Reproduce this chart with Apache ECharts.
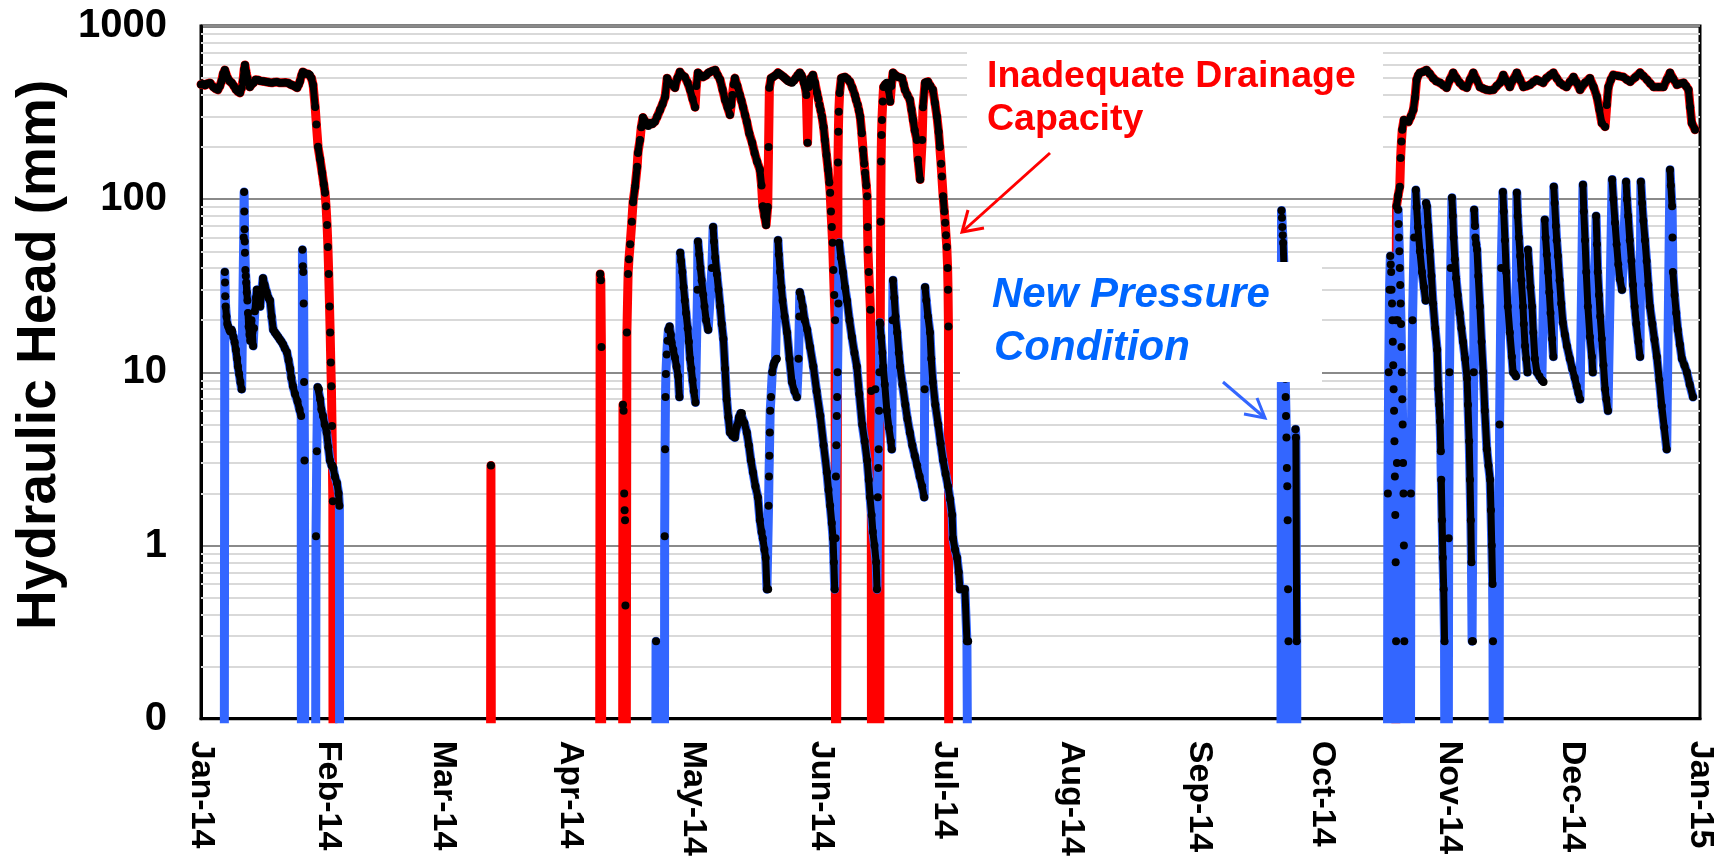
<!DOCTYPE html>
<html>
<head>
<meta charset="utf-8">
<title>Hydraulic Head</title>
<script src="https://cdn.jsdelivr.net/npm/echarts@6/dist/echarts.min.js"></script>
<style>
html, body { margin: 0; padding: 0; background: #fff; }
#chart { width: 1723px; height: 859px; }
</style>
</head>
<body>
<div id="chart"></div>
<script>
// x = days since 1 Jan 2014, y = hydraulic head (mm); 0 = no head
var monthDays = [0, 31, 59, 90, 120, 151, 181, 212, 243, 273, 304, 334, 365];
var monthLabels = ['Jan-14', 'Feb-14', 'Mar-14', 'Apr-14', 'May-14', 'Jun-14', 'Jul-14',
	'Aug-14', 'Sep-14', 'Oct-14', 'Nov-14', 'Dec-14', 'Jan-15'];
var minorGrid = [0.2, 0.3, 0.4, 0.5, 0.6, 0.7, 0.8, 0.9, 2, 3, 4, 5, 6, 7, 8, 9,
	20, 30, 40, 50, 60, 70, 80, 90, 200, 300, 400, 500, 600, 700, 800, 900];

// Inadequate Drainage Capacity
var drainJan = [[0,460],[0.5,462],[1,455],[1.6,465],[2.2,469],[3,445],[3.5,435],[4.1,428],[4.6,450],[5,480],[5.4,530],
	[5.8,557],[6.1,530],[6.5,500],[7,480],[7.5,469],[8,450],[8.5,430],[9,418],[9.5,411],[9.9,440],[10.2,480],[10.5,560],
	[10.7,596],[11,540],[11.3,500],[11.6,465],[11.9,445],[12.3,460],[12.8,470],[13.3,490],[13.9,488],[14.4,482],[15,480],
	[15.5,478],[16.1,475],[16.7,472],[17.3,470],[17.9,474],[18.5,475],[19.1,470],[19.8,470],[20.5,472],[21.2,469],
	[21.8,460],[22.3,455],[22.9,448],[23.4,440],[23.8,460],[24.1,480],[24.5,520],[24.8,543],[25.2,535],[25.6,530],
	[26.1,528],[26.5,522],[26.9,500],[27.3,457],[27.8,341],[28.1,270],[28.5,201],[29,170],[29.5,142],[29.9,122],
	[30.2,109],[30.45,91],[30.7,71],[30.9,53],[31.1,37],[31.3,24],[31.45,17],[31.6,11.4],[31.75,8.3],[31.9,4.9],
	[32.0,2.9],[32.1,1.8],[32.2,0]];
var drainMar = [[70.4,0],[70.6,2.9],[70.8,0]];
var drainApr = [[97.0,0],[97.2,37],[97.35,34],[97.5,14],[97.6,0]];
var drainAprJul = [[102.6,0],[102.75,6.5],[102.9,6.0],[103.05,2.0],[103.15,1.6],[103.25,1.4],[103.35,0.45],[103.45,0],
	[103.6,0],[103.7,17],[104.0,37],[104.2,45],[104.5,55],[104.9,74],[105.2,96],[105.7,118],[106.2,154],[106.4,185],
	[106.9,220],[107.2,260],[107.6,296],[108.0,285],[108.5,270],[108.9,265],[109.3,275],[109.9,272],[110.5,280],
	[111.1,300],[111.8,328],[112.4,355],[113,390],[113.5,500],[114.1,470],[114.7,458],[115.4,440],[116.0,500],
	[116.6,543],[117.2,520],[117.8,508],[118.5,470],[119.1,428],[119.7,380],[120.3,340],[120.6,450],[121,537],
	[121.6,520],[122.2,508],[122.6,515],[123.0,520],[123.5,535],[123.9,543],[124.5,550],[125.2,557],[125.8,520],
	[126.4,490],[127.0,430],[127.6,375],[128.2,340],[128.8,307],[129.1,350],[129.4,400],[129.7,460],[130,500],
	[130.6,450],[131.2,400],[131.6,370],[132.0,340],[132.5,305],[132.9,280],[133.5,240],[134.2,212],[134.8,185],
	[135.4,165],[136.1,148],[136.5,120],[136.8,91],[137.2,80],[137.6,71],[138.0,90],[138.2,200],[138.4,440],
	[138.8,500],[139.3,508],[139.9,520],[140.5,537],[140.9,528],[141.3,520],[141.8,510],[142.2,500],[142.6,490],
	[143.0,480],[143.5,475],[143.9,470],[144.4,485],[144.8,500],[145.3,520],[145.8,537],[146.2,520],[146.5,500],
	[146.8,470],[147.1,445],[147.4,400],[147.7,212],[148.0,445],[148.3,480],[148.5,500],[149.0,522],[149.5,470],
	[150,410],[150.3,380],[150.6,350],[150.9,325],[151.2,300],[151.6,260],[151.9,220],[152.3,180],[152.7,148],
	[153.0,125],[153.2,109],[153.4,85],[153.6,69],[153.8,56],[154.0,39],[154.2,28],[154.4,20],[154.6,0],[155.0,0],
	[155.1,163],[155.2,245],[155.3,320],[155.5,410],[155.9,500],[156.3,505],[156.8,508],[157.4,495],[158,477],
	[158.6,440],[159.2,400],[159.5,375],[159.9,350],[160.2,325],[160.5,300],[160.9,240],[161.2,193],[161.5,160],
	[161.7,142],[162.0,120],[162.2,104],[162.3,69],[162.4,51],[162.6,38],[162.8,30],[163.0,23],[163.2,7.8],
	[163.3,0],[164.0,0],[164.2,8],[164.4,0],[165.2,0],[165.4,19],[165.5,74],[165.6,165],[165.7,235],[165.8,287],
	[166.0,366],[166.2,445],[166.6,460],[167.0,470],[167.4,430],[167.8,366],[168.1,450],[168.5,537],[169.1,520],
	[169.7,508],[170.2,505],[170.7,500],[171.1,460],[171.4,428],[172.0,400],[172.6,375],[173.0,330],[173.4,287],
	[173.8,250],[174.3,220],[174.6,169],[175.1,130],[175.6,220],[175.8,340],[176.3,470],[176.7,475],[177.0,477],
	[177.6,450],[178.2,428],[178.7,360],[179.2,300],[179.6,245],[179.9,200],[180.2,160],[180.4,135],[180.7,104],
	[181.0,85],[181.2,73],[181.4,62],[181.6,53],[181.8,40],[181.9,30],[182.0,18.4],[182.1,0]];
var drainOctDec = [[290.9,0],[291.0,20],[291.1,91],[291.5,105],[291.9,118],[292.1,173],[292.3,215],[292.5,252],
	[292.9,287],[293.4,284],[294,280],[294.6,300],[295.2,328],[295.6,385],[296,490],[296.4,520],[296.8,537],
	[297.6,545],[298.4,557],[299.2,530],[300,500],[300.8,480],[301.7,470],[302.5,455],[303.3,440],[304.1,490],
	[304.9,537],[305.7,500],[306.5,470],[307.3,450],[308.2,440],[309.0,490],[309.8,537],[310.6,490],[311.4,445],
	[312.2,435],[313,428],[313.8,425],[314.7,428],[315.5,450],[316.3,470],[317.1,522],[317.9,480],[318.7,445],
	[319.5,490],[320.4,537],[321.2,490],[322,445],[322.8,450],[323.6,458],[324.4,475],[325.2,490],[326.0,480],
	[326.8,470],[327.6,500],[328.5,520],[329.3,537],[330.1,500],[330.9,470],[331.7,455],[332.5,445],[333.3,475],
	[334.2,508],[335.0,470],[335.8,428],[337.0,470],[338.2,500],[339.1,445],[339.9,390],[340.5,330],[341.1,275],
	[341.9,262],[342.3,350],[342.7,445],[343.3,490],[343.9,522],[345.1,515],[346.3,508],[347.2,490],[348,477],
	[349.2,505],[350.4,537],[351.2,515],[352.1,490],[352.9,465],[353.7,445],[354.9,445],[356.1,445],[356.9,490],
	[357.7,537],[358.5,495],[359.4,458],[360.2,465],[361,470],[361.6,450],[362.2,428],[362.6,340],[363,275],
	[363.8,252]];

// New Pressure Condition
var pressJan = [[0,0],[5.6,0],[5.8,38],[5.85,33],[5.9,27.5],[6.0,24],[6.2,21],[6.4,19],[6.6,18.4],[6.9,17.6],
	[7.1,17.2],[7.4,17.6],[7.6,17.2],[7.9,16],[8.2,14.9],[8.5,13.5],[8.8,12],[9.0,10.8],[9.3,9.8],[9.6,8.8],
	[9.9,8.0],[10.4,60],[10.5,110],[10.55,85],[10.6,67],[10.65,57],[10.7,49],[10.8,39],[10.9,36],[11.0,33],
	[11.15,29],[11.3,26],[11.45,22],[11.6,18.4],[11.8,16.5],[12.0,15.2],[12.3,20],[12.5,17],[12.7,14.2],[12.9,18],
	[13.1,22.5],[13.4,27],[13.6,30],[14.0,27],[14.4,24],[14.8,30],[15.1,35],[15.5,32],[16.0,29],[16.4,27],
	[16.8,26],[17.2,21],[17.6,17.6],[18.0,17],[18.4,16.5],[18.8,16],[19.2,15.5],[19.6,15],[20.0,14.5],[20.4,13.8],
	[20.9,13.1],[21.3,11.8],[21.7,10.5],[22.0,9.3],[22.4,8.3],[22.9,7.5],[23.5,6.8],[24.0,6.1],[24.4,5.6],[24.5,0],
	[24.7,51],[24.8,41],[24.9,38],[25.0,25],[25.1,8.8],[25.2,3.1],[25.3,0],[27.8,0],[28.0,1.13],[28.2,3.5],
	[28.4,8.2],[28.7,8.0],[29.0,7],[29.3,6.1],[29.7,5.6],[30.1,5],[30.6,4.5],[31.0,3.7],[31.4,3.1],[31.8,2.9],
	[32.2,2.8],[32.6,2.5],[33.1,2.3],[33.5,2.0],[33.7,1.7],[33.8,0]];
var pressAprJul = [[110.6,0],[110.8,0.28],[111.0,0],[112.8,0],[112.9,1.13],[113.0,3.6],[113.1,7.2],[113.2,9.8],
	[113.4,12.7],[113.6,15.2],[113.8,17.6],[114.1,18.4],[114.4,16.5],[114.6,14.9],[115.0,13.5],[115.4,12.2],
	[115.8,10.8],[116.2,9.5],[116.5,7.2],[116.7,49],[116.9,44],[117.2,38],[117.5,31],[117.8,26],[118.1,22],[118.5,18],
	[118.8,15],[119.1,12],[119.4,10.5],[119.7,9],[120.0,7.8],[120.4,6.7],[120.9,30],[121.0,57],[121.3,48],[121.6,40],
	[121.9,34],[122.3,28],[122.6,24],[123.0,20],[123.5,17.6],[124.4,40],[124.7,69],[124.9,57],[125.2,46],[125.6,37],
	[126.0,30],[126.4,24],[126.8,19],[127.2,15.6],[127.6,10.5],[128.0,7],[128.4,5.5],[128.8,4.5],[129.4,4.3],
	[130.0,4.2],[130.5,4.9],[131.0,5.5],[131.4,5.8],[131.7,5.8],[132.3,5.1],[132.9,4.5],[133.4,3.8],[133.9,3.1],
	[134.4,2.65],[135.0,2.2],[135.6,1.9],[136.1,1.4],[136.5,1.2],[136.8,1.1],[137.2,0.95],[137.5,0.85],[137.8,0.56],
	[138.1,0.56],[138.2,1.7],[138.3,2.5],[138.4,3.3],[138.5,4.5],[138.6,6],[138.8,7.2],[139.1,10],[139.4,11],
	[139.6,11.4],[139.9,11.8],[140.2,12],[140.5,58],[140.7,48],[141.0,38],[141.3,31],[141.6,26],[142.1,21],
	[142.7,17],[143.3,12],[143.9,8.8],[144.5,7.8],[145.1,7.2],[145.5,12],[145.7,21],[145.8,29],[146.1,27],[146.5,24],
	[147.0,20],[147.6,17.6],[148.3,14],[149.1,10.8],[149.9,7.8],[150.8,5.6],[151.6,3.8],[152.4,2.65],[152.8,2.1],
	[153.2,1.7],[153.6,1.35],[153.9,1.1],[154.1,0.8],[154.3,0.56],[154.5,1.1],[154.6,2.5],[154.7,3.8],[154.8,5.6],
	[154.9,7.2],[155.0,10],[155.2,25],[155.4,56],[155.8,46],[156.3,38],[156.8,31],[157.3,26],[157.9,20],[158.5,16],
	[159.1,13],[159.7,10.8],[160.3,7.5],[161.0,5],[161.6,4],[162.2,3.1],[162.6,2.4],[162.9,1.9],[163.3,1.5],
	[163.6,1.2],[164.0,1.0],[164.4,0.8],[164.6,0.56],[164.8,1.9],[164.9,2.8],[165.0,3.6],[165.1,6],[165.2,10],
	[165.3,19.4],[165.6,16],[165.9,13],[166.1,10.8],[166.5,8.5],[167.0,6],[167.5,4.8],[168.0,4],[168.2,3.6],
	[168.4,20],[168.5,34],[168.8,27],[169.1,21],[169.5,17],[169.9,13],[170.2,10.8],[170.8,8.5],[171.5,6.5],
	[172.0,5.4],[172.6,4.5],[173.2,3.8],[173.8,3.3],[174.4,2.9],[175.0,2.5],[175.6,2.2],[176.1,1.9],[176.2,8],
	[176.3,31],[176.6,26],[177.0,21],[177.5,17],[177.8,12],[178.2,8.8],[178.8,6.5],[179.5,5],[180.1,3.9],
	[180.7,3.1],[181.3,2.6],[181.9,2.2],[182.4,1.85],[182.9,1.5],[183.1,1.1],[183.6,0.95],[184.1,0.85],[184.5,0.7],
	[184.8,0.56],[185.4,0.56],[186.0,0.56],[186.5,0.28],[186.8,0.28],[187.0,0]];
var pressSep = [[262.9,0],[263.1,86],[263.2,78],[263.3,69],[263.4,62],[263.5,56],[263.7,40],[263.85,20],[264.0,9.2],
	[264.1,7.2],[264.2,5.6],[264.3,4.2],[264.4,2.8],[264.5,2.2],[264.6,1.4],[264.7,0.56],[264.8,0.28],[264.9,0],
	[266.4,0],[266.5,4.7],[266.6,4.2],[266.8,0.28],[266.9,0]];
var pressOctDec = [[288.8,0],[289.0,2],[289.2,10],[289.4,30],[289.6,47],[289.7,42],[289.8,38],[289.9,30],[290.0,25],
	[290.1,20],[290.2,15],[290.3,11],[290.4,8],[290.5,6],[290.6,4],[290.7,2.5],[290.8,1.5],[290.9,0.8],[291.0,0.28],
	[291.1,0],[291.2,3],[291.4,20],[291.5,87],[291.6,72],[291.7,60],[291.8,50],[291.9,40],[292.0,32],[292.1,25],
	[292.2,19],[292.3,14],[292.4,10],[292.5,7],[292.6,5],[292.7,3],[292.8,2],[292.9,1],[293.0,0.28],[293.1,0],
	[294.4,0],[294.6,2.0],[295.0,20],[295.4,60],[295.8,113],[296.0,90],[296.3,69],[296.8,50],[297.3,38],[297.8,31],
	[298.2,26],[298.3,95],[298.5,91],[298.8,70],[299.2,50],[299.6,36],[300.0,25],[300.5,18],[301.0,13.5],[301.3,8],
	[301.5,6.5],[301.7,5.2],[301.9,3.5],[302.0,2.4],[302.2,1.4],[302.4,0.85],[302.6,0.56],[302.8,0.28],[303.0,0],
	[303.6,0],[303.8,1.1],[304.0,10],[304.3,40],[304.6,102],[304.8,80],[305.0,60],[305.3,45],[305.6,35],[306.0,28],
	[306.5,22],[306.9,18],[307.3,15],[307.8,12],[308.3,9.2],[308.5,6.5],[308.8,4],[309.0,2.4],[309.2,1.4],
	[309.35,0.8],[309.5,0.28],[309.7,0.28],[309.9,10],[310.0,87],[310.2,70],[310.3,60],[310.5,55],[310.7,51],
	[311.0,36],[311.4,24],[311.8,15],[312.2,10],[312.6,6],[313.1,3.6],[313.5,2.9],[313.9,2.4],[314.1,1.6],[314.3,1],
	[314.5,0.6],[314.6,0.28],[314.8,0],[316.0,0],[316.2,5],[316.6,40],[317.0,110],[317.2,85],[317.5,58],[317.8,38],
	[318.2,24],[318.7,17],[319.2,12.3],[319.5,10],[319.9,9.8],[320.2,9.5],[320.4,109],[320.6,80],[320.9,60],
	[321.2,47],[321.5,34],[321.9,24],[322.1,19],[322.4,14.2],[322.7,12],[323.0,10],[323.1,51],[323.4,40],[323.7,31],
	[324.1,24],[324.4,17],[324.8,12],[325.3,10],[325.9,9.5],[326.5,9],[326.9,8.8],[327.2,76],[327.4,60],[327.7,48],
	[328.0,38],[328.3,29],[328.6,22],[329.0,15.6],[329.3,12.3],[329.4,118],[329.6,95],[329.9,70],[330.1,58],
	[330.4,47],[330.8,34],[331.2,25],[331.6,19.4],[332.1,16.5],[332.6,14.2],[333.3,12],[333.9,10.5],[334.5,9.3],
	[335.0,8.3],[335.4,7.6],[335.8,7],[336.5,121],[336.7,85],[337.0,58],[337.3,38],[337.7,24],[338.2,16],
	[338.7,12.3],[338.9,10],[339.7,80],[339.9,55],[340.1,38],[340.4,28],[340.7,21],[341.1,15.6],[341.5,11],[341.9,8],
	[342.2,7],[342.6,6],[343.6,130],[343.9,100],[344.3,73],[344.7,55],[345.1,42],[345.5,34.5],[346.0,30],[347.0,126],
	[347.2,100],[347.5,80],[347.9,58],[348.3,44],[348.7,32],[349.1,24],[349.5,19],[350.0,15],[350.4,12.3],
	[350.6,126],[350.9,95],[351.2,75],[351.6,58],[352.0,44],[352.4,32],[352.8,24],[353.4,19],[353.9,15.5],
	[354.5,12.3],[355.1,9],[355.7,6.4],[356.3,4.8],[356.9,3.6],[357.7,148],[357.9,120],[358.2,91],[358.3,60],
	[358.4,38],[358.8,28],[359.2,22],[359.6,17.6],[360.1,14.5],[360.6,12],[361.2,11],[361.8,10],[362.5,8.5],
	[363.3,7.2]];

var drainParts = [drainJan, drainMar, drainApr, drainAprJul, drainOctDec];
var pressParts = [pressJan, pressAprJul, pressSep, pressOctDec];

var ZERO_FLOOR = 0.001; // zero heads fall below the log axis and get clipped
function toSeries(parts){
	var out = [];
	parts.forEach(function(p){
		p.forEach(function(pt){ out.push([pt[0], pt[1] > 0 ? pt[1] : ZERO_FLOOR]); });
	});
	return out;
}

// the logger wrote many readings per day: where the head changes slowly the
// markers merge into a solid black trace, so draw those stretches as a black line
function markerTrail(parts, minDt, maxRate, keepFalls){
	var pts = [].concat.apply([], parts);
	var out = [], open = false;
	for (var i = 0; i < pts.length - 1; i++){
		var a = pts[i], b = pts[i + 1];
		var dt = b[0] - a[0];
		var ok = a[1] > 0 && b[1] > 0 && dt >= minDt;
		if (ok){
			var rate = Math.abs(Math.log(b[1] / a[1]) / Math.LN10) / dt;
			ok = rate < maxRate || (keepFalls && b[1] <= a[1]);
		}
		if (ok){
			if (!open) out.push([a[0], a[1]]);
			out.push([b[0], b[1]]);
			open = true;
		} else if (open){
			out.push([b[0], '-']);
			open = false;
		}
	}
	return out;
}

var FONT = '"Liberation Sans", Arial, Helvetica, sans-serif';
var chart = echarts.init(document.getElementById('chart'), null, {renderer: 'canvas'});

function trailSeries(data){
	return {
		type: 'line', data: data, symbol: 'none', connectNulls: false, silent: true,
		lineStyle: {color: '#000', width: 7, cap: 'round', join: 'round'},
		emphasis: {disabled: true}
	};
}

var option = {
	animation: false,
	backgroundColor: '#fff',
	grid: {left: 201, right: 23, top: 26, bottom: 139, show: true, borderColor: '#000', borderWidth: 3, backgroundColor: 'transparent'},
	xAxis: {
		type: 'value', min: 0, max: 365,
		axisLine: {show: true, lineStyle: {color: '#000', width: 3}},
		axisTick: {show: false},
		splitLine: {show: false},
		axisLabel: {
			customValues: monthDays,
			rotate: -90, margin: 22,
			fontSize: 34, fontWeight: 'bold', fontFamily: FONT, color: '#000',
			formatter: function(v){ return monthLabels[monthDays.indexOf(Math.round(v))] || ''; }
		}
	},
	yAxis: {
		type: 'log', logBase: 10, min: 0.1, max: 1000,
		name: 'Hydraulic Head (mm)', nameLocation: 'middle', nameGap: 132,
		nameTextStyle: {fontSize: 55, fontWeight: 'bold', fontFamily: FONT, color: '#000', padding: [0, 0, 0, 35]},
		axisLine: {show: true, lineStyle: {color: '#000', width: 3}},
		axisTick: {show: false},
		splitLine: {show: true, lineStyle: {color: '#8a8a8a', width: 2}},
		axisLabel: {
			margin: 34, fontSize: 40, fontWeight: 'bold', fontFamily: FONT, color: '#000',
			formatter: function(v){ return v < 0.5 ? '0' : String(Math.round(v)); }
		}
	},
	series: [
		{
			name: 'Inadequate Drainage Capacity', type: 'line',
			data: toSeries(drainParts),
			symbol: 'circle', symbolSize: 8,
			itemStyle: {color: '#000'},
			lineStyle: {color: '#ff0000', width: 9, cap: 'round', join: 'round'},
			emphasis: {disabled: true},
			markLine: {
				silent: true, z: 1, animation: false,
				symbol: ['none', 'none'],
				label: {show: false},
				lineStyle: {color: '#d9d9d9', width: 2, type: 'solid'},
				data: minorGrid.map(function(v){ return {yAxis: v}; })
			}
		},
		trailSeries(markerTrail(drainParts, 0.3, 0.3, false)),
		{
			name: 'New Pressure Condition', type: 'line',
			data: toSeries(pressParts),
			symbol: 'circle', symbolSize: 8,
			itemStyle: {color: '#000'},
			lineStyle: {color: '#3366ff', width: 9, cap: 'round', join: 'round'},
			emphasis: {disabled: true}
		},
		trailSeries(markerTrail(pressParts, 0.15, 0.3, true))
	],
	graphic: [
		{type: 'rect', z: 100, shape: {x: 967, y: 48, width: 416, height: 117}, style: {fill: '#fff'}},
		{type: 'text', z: 101, x: 987, y: 77, style: {text: 'Inadequate Drainage', fill: '#ff0000', fontSize: 37.5, fontWeight: 'bold', fontFamily: FONT, align: 'left', verticalAlign: 'middle'}},
		{type: 'text', z: 101, x: 987, y: 120, style: {text: 'Capacity', fill: '#ff0000', fontSize: 37.5, fontWeight: 'bold', fontFamily: FONT, align: 'left', verticalAlign: 'middle'}},
		{type: 'polyline', z: 101, shape: {points: [[1050, 153], [962, 232]]}, style: {stroke: '#ff0000', lineWidth: 3}},
		{type: 'polyline', z: 101, shape: {points: [[984, 228], [962, 232], [968, 210]]}, style: {stroke: '#ff0000', lineWidth: 3, fill: null}},
		{type: 'rect', z: 100, shape: {x: 960, y: 262, width: 362, height: 120}, style: {fill: '#fff'}},
		{type: 'text', z: 101, x: 992, y: 295, style: {text: 'New Pressure', fill: '#0066ff', fontSize: 42, fontWeight: 'bold', fontStyle: 'italic', fontFamily: FONT, align: 'left', verticalAlign: 'middle'}},
		{type: 'text', z: 101, x: 994, y: 348, style: {text: 'Condition', fill: '#0066ff', fontSize: 42, fontWeight: 'bold', fontStyle: 'italic', fontFamily: FONT, align: 'left', verticalAlign: 'middle'}},
		{type: 'polyline', z: 101, shape: {points: [[1223, 382], [1265, 418]]}, style: {stroke: '#3366ff', lineWidth: 3}},
		{type: 'polyline', z: 101, shape: {points: [[1257, 398], [1265, 418], [1244, 414]]}, style: {stroke: '#3366ff', lineWidth: 3, fill: null}}
	]
};
chart.setOption(option);
</script>
</body>
</html>
